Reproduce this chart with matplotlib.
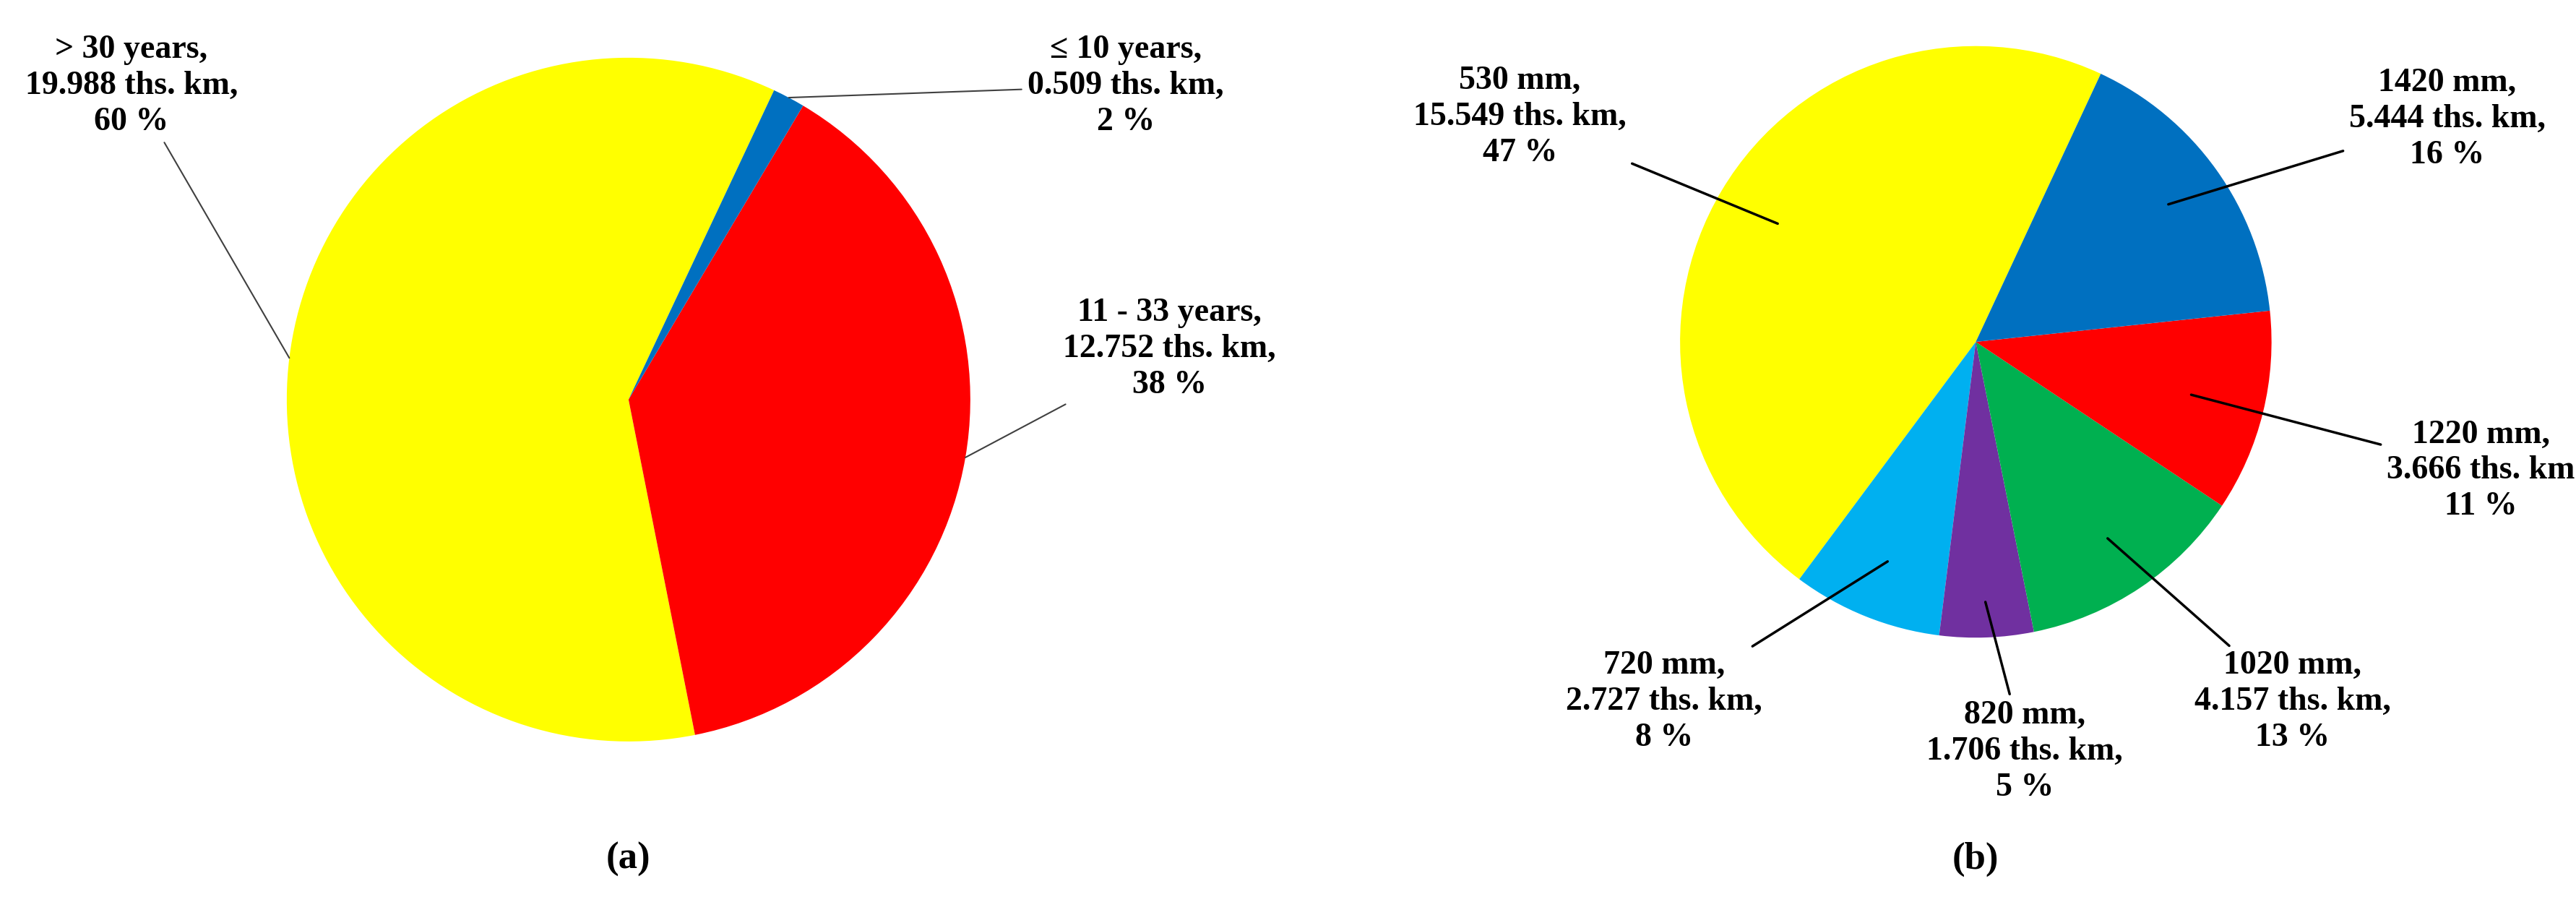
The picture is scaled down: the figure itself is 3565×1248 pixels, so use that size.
import numpy as np
import matplotlib.pyplot as plt

# (a) pipeline age
age_labels = ["> 30 years,\n19.988 ths. km,\n60 %",
              "11 - 33 years,\n12.752 ths. km,\n38 %",
              "≤ 10 years,\n0.509 ths. km,\n2 %"]
age_km = [19.988, 12.752, 0.509]
age_colors = ["#FFFF00", "#FF0000", "#0070C0"]

# (b) pipe diameter
dia_labels = ["530 mm,\n15.549 ths. km,\n47 %",
              "720 mm,\n2.727 ths. km,\n8 %",
              "820 mm,\n1.706 ths. km,\n5 %",
              "1020 mm,\n4.157 ths. km,\n13 %",
              "1220 mm,\n3.666 ths. km\n11 %",
              "1420 mm,\n5.444 ths. km,\n16 %"]
dia_km = [15.549, 2.727, 1.706, 4.157, 3.666, 5.444]
dia_colors = ["#FFFF00", "#00B0F0", "#7030A0", "#00B050", "#FF0000", "#0070C0"]

plt.rcParams["font.family"] = ["Liberation Serif", "DejaVu Serif"]
plt.rcParams["font.weight"] = "bold"

fig = plt.figure(figsize=(35.65, 12.48), dpi=100)

ax_a = fig.add_axes([0.244 - 0.1327, 0.557 - 0.379, 0.2654, 0.758])
ax_b = fig.add_axes([0.767 - 0.1148, 0.621 - 0.328, 0.2296, 0.656])

# label positions (figure fraction) and where leader lines hit the pie (radius fraction)
a_text_pos = [(0.051, 0.905), (0.454, 0.613), (0.437, 0.905)]
a_hit = [1.0, 1.0, 1.0]
b_text_pos = [(0.590, 0.870), (0.646, 0.222), (0.786, 0.167),
              (0.890, 0.222), (0.963, 0.478), (0.950, 0.868)]
b_hit = [0.78, 0.8, 0.88, 0.8, 0.75, 0.8]


def draw_pie(ax, values, colors, labels, start, text_pos, hit):
    wedges, _ = ax.pie(values, colors=colors, startangle=start, counterclock=True,
                       radius=1.0, wedgeprops=dict(linewidth=0))
    for w, lab, pos, r in zip(wedges, labels, text_pos, hit):
        mid = np.deg2rad((w.theta1 + w.theta2) / 2)
        ax.annotate(lab, xy=(r * np.cos(mid), r * np.sin(mid)), xycoords="data",
                    xytext=pos, textcoords="figure fraction",
                    ha="center", va="center", fontsize=33, fontweight="bold",
                    linespacing=1.25,
                    arrowprops=dict(arrowstyle="-", color="#404040" if r == 1.0 else "black",
                                    lw=1.5 if r == 1.0 else 2.5, shrinkA=4, shrinkB=0))
    ax.set_xlim(-1, 1)
    ax.set_ylim(-1, 1)
    ax.set_aspect("equal")
    ax.axis("off")


draw_pie(ax_a, age_km, age_colors, age_labels, 64.8, a_text_pos, a_hit)
draw_pie(ax_b, dia_km, dia_colors, dia_labels, 65, b_text_pos, b_hit)

fig.text(0.244, 0.047, "(a)", ha="center", va="center", fontsize=38, fontweight="bold")
fig.text(0.767, 0.047, "(b)", ha="center", va="center", fontsize=38, fontweight="bold")

fig.savefig("out.png", dpi=100, facecolor="white")
